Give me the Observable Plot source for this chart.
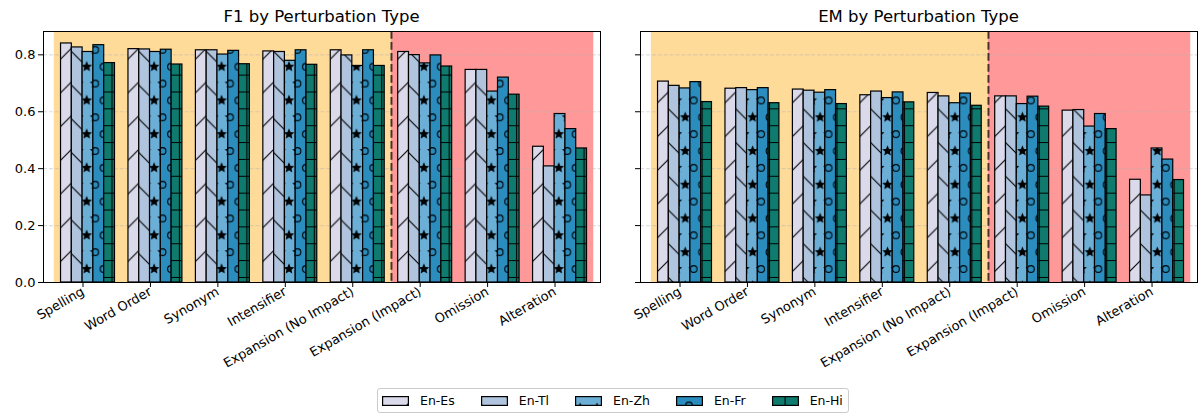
<!DOCTYPE html>
<html>
<head>
<meta charset="utf-8">
<script src="https://cdn.jsdelivr.net/npm/d3@7"></script>
<script src="https://cdn.jsdelivr.net/npm/@observablehq/plot@0.6"></script>
<style>
  body { margin: 0; background: #fff; font-family: "DejaVu Sans", sans-serif; }
  #wrap { position: relative; width: 1200px; height: 414px; overflow: hidden; }
  .title { position: absolute; top: 7px; font-size: 16.5px; line-height: 20px; transform: translateX(-50%); white-space: nowrap; color: #000; }
  .panel { position: absolute; top: 0; }
  #legend { position: absolute; left: 377px; top: 388px; height: 23px; display: flex; align-items: center;
            border: 1px solid #cccccc; border-radius: 3px; padding: 0 5px 0 4px; font-size: 12.5px; color: #000; }
  #legend .item { display: flex; align-items: center; margin-right: 26px; }
  #legend .item:last-child { margin-right: 0; }
  #legend svg { display: block; margin-right: 11px; }
</style>
</head>
<body>
<div id="wrap"></div>
<script>
// Perturbation categories along the x axis
const categories = ["Spelling", "Word Order", "Synonym", "Intensifier",
  "Expansion (No Impact)", "Expansion (Impact)", "Omission", "Alteration"];
const series = ["En-Es", "En-Tl", "En-Zh", "En-Fr", "En-Hi"];
const seriesColors = ["#dadaeb", "#b0c4de", "#6baed6", "#2b8cbe", "#0f7b6e"];
const seriesHatches = ["diag", "back", "star", "ring", "grid"];
const yTicks = [0, 0.2, 0.4, 0.6, 0.8];
// first category whose perturbation changes the answer
const impactStart = "Expansion (Impact)";

// F1 scores per language pair
const f1Es = [0.840, 0.820, 0.816, 0.812, 0.816, 0.810, 0.747, 0.477];
const f1Tl = [0.826, 0.819, 0.816, 0.810, 0.798, 0.799, 0.747, 0.408];
const f1Zh = [0.810, 0.810, 0.801, 0.779, 0.761, 0.770, 0.671, 0.592];
const f1Fr = [0.834, 0.818, 0.814, 0.816, 0.816, 0.798, 0.720, 0.539];
const f1Hi = [0.771, 0.766, 0.767, 0.765, 0.761, 0.759, 0.660, 0.471];

// Exact-match scores per language pair
const emEs = [0.706, 0.681, 0.678, 0.658, 0.666, 0.654, 0.604, 0.361];
const emTl = [0.691, 0.683, 0.674, 0.671, 0.654, 0.654, 0.606, 0.306];
const emZh = [0.682, 0.676, 0.667, 0.648, 0.630, 0.627, 0.548, 0.471];
const emFr = [0.704, 0.683, 0.676, 0.668, 0.664, 0.653, 0.592, 0.432];
const emHi = [0.634, 0.630, 0.627, 0.633, 0.621, 0.618, 0.539, 0.360];

const BAR_W = 0.16;          // bar width in category units
const X_DOMAIN = [-0.66, 7.6];
const Y_MAX = 0.882;

// hatch cell size; a pattern tile is two cells square
const S = 16.86, P = 2 * S;
// one hatch lattice shared by the whole page (origin in page coordinates)
const HATCH_ORIGIN = [86.7, 66.7];

function starPath(cx, cy, R, r) {
  let d = "";
  for (let k = 0; k < 10; k++) {
    const a = -Math.PI / 2 + k * Math.PI / 5;
    const rad = k % 2 === 0 ? R : r;
    d += (k === 0 ? "M" : "L") + (cx + rad * Math.cos(a)).toFixed(2) + "," + (cy + rad * Math.sin(a)).toFixed(2);
  }
  return d + "Z";
}

const mod = v => ((v % P) + P) % P;

// Adds the five hatch patterns to an svg; phase gives each pattern's origin in the svg's coordinates
function addPatterns(svg, prefix, phase) {
  const ns = "http://www.w3.org/2000/svg";
  let defs = svg.querySelector("defs");
  if (!defs) { defs = document.createElementNS(ns, "defs"); svg.insertBefore(defs, svg.firstChild); }
  const lattice = [[0, 0], [S, 0], [P, 0], [0, P], [S, P], [P, P], [S / 2, S], [3 * S / 2, S]];
  const content = {
    diag: `<path d="M0,${P}L${P},0M${-P/2},${P/2}L${P/2},${-P/2}M${P/2},${3*P/2}L${3*P/2},${P/2}" stroke="#000" stroke-width="1.1" fill="none"/>`,
    back: `<path d="M0,0L${P},${P}M${-P/2},${P/2}L${P/2},${3*P/2}M${P/2},${-P/2}L${3*P/2},${P/2}" stroke="#000" stroke-width="1.1" fill="none"/>`,
    star: `<path d="${lattice.map(([x, y]) => starPath(x, y, S / 3, S / 6.5)).join("")}" fill="#000"/>`,
    ring: lattice.map(([x, y]) => `<circle cx="${x}" cy="${y}" r="${(S * 0.2).toFixed(2)}" fill="none" stroke="#000" stroke-width="1.1"/>`).join(""),
    grid: `<path d="M${S/2},0V${P}M${3*S/2},0V${P}M0,${S/2}H${P}M0,${3*S/2}H${P}" stroke="#000" stroke-width="1.1" fill="none"/>`
  };
  for (const [name, body] of Object.entries(content)) {
    const [ox, oy] = typeof phase === "function" ? phase(name) : phase;
    const pat = document.createElementNS(ns, "pattern");
    pat.setAttribute("id", `${prefix}-${name}`);
    pat.setAttribute("patternUnits", "userSpaceOnUse");
    pat.setAttribute("x", mod(ox));
    pat.setAttribute("y", mod(oy));
    pat.setAttribute("width", P);
    pat.setAttribute("height", P);
    pat.innerHTML = body;
    defs.appendChild(pat);
  }
}

function buildRows(valueLists) {
  const rows = [];
  valueLists.forEach((vals, si) => vals.forEach((v, ci) => rows.push({series: series[si], si, category: categories[ci], ci, value: v})));
  return rows;
}

function panel({prefix, values, pageLeft, width, marginLeft, marginRight, showYLabels}) {
  const rows = buildRows(values);
  const boundary = categories.indexOf(impactStart) - 0.5;
  const first = -0.5, last = categories.length - 0.5;
  const x1 = d => d.ci + (d.si - 2.5) * BAR_W;
  const x2 = d => d.ci + (d.si - 1.5) * BAR_W;

  const marks = [
    Plot.rect([{a: first, b: boundary}], {x1: "a", x2: "b", y1: 0, y2: Y_MAX, fill: "#ffdb99"}),
    Plot.rect([{a: boundary, b: last}], {x1: "a", x2: "b", y1: 0, y2: Y_MAX, fill: "#ff9999"}),
    Plot.ruleY(yTicks.slice(1), {stroke: "#b0b0b0", strokeOpacity: 0.4, strokeWidth: 1.1, strokeDasharray: "4.1,1.8"}),
    Plot.ruleX([boundary], {stroke: "#000", strokeOpacity: 0.7, strokeWidth: 2, strokeDasharray: "7.7,3.3"})
  ];
  series.forEach((name, si) => {
    const sub = rows.filter(d => d.si === si);
    marks.push(Plot.rectY(sub, {x1, x2, y1: 0, y2: "value", fill: seriesColors[si]}));
    marks.push(Plot.rectY(sub, {x1, x2, y1: 0, y2: "value", fill: `url(#${prefix}-${seriesHatches[si]})`,
      stroke: "#000", strokeWidth: 1.2}));
  });
  marks.push(Plot.frame({stroke: "#000", strokeWidth: 1}));
  marks.push(Plot.axisY({ticks: yTicks, tickSize: 5, tickPadding: 3,
    tickFormat: showYLabels ? d3.format(".1f") : () => "", label: null}));
  marks.push(Plot.axisX({ticks: categories.map((_, i) => i), tickFormat: i => categories[i],
    tickSize: 5, tickPadding: 3, tickRotate: -30, textAnchor: "end", dx: -5, label: null}));

  const svg = Plot.plot({
    width, height: 384,
    marginLeft, marginRight, marginTop: 31, marginBottom: 102,
    x: {domain: X_DOMAIN},
    y: {domain: [0, Y_MAX]},
    style: {fontFamily: "DejaVu Sans, sans-serif", fontSize: "13px", color: "#000", background: "transparent", overflow: "visible"},
    marks
  });
  addPatterns(svg, prefix, [HATCH_ORIGIN[0] - pageLeft, HATCH_ORIGIN[1]]);
  svg.classList.add("panel");
  svg.style.left = pageLeft + "px";
  return svg;
}

const wrap = document.getElementById("wrap");
wrap.appendChild(panel({prefix: "f1", values: [f1Es, f1Tl, f1Zh, f1Fr, f1Hi], pageLeft: 0, width: 602, marginLeft: 43, marginRight: 2, showYLabels: true}));
wrap.appendChild(panel({prefix: "em", values: [emEs, emTl, emZh, emFr, emHi], pageLeft: 600, width: 600, marginLeft: 40, marginRight: 3, showYLabels: false}));

for (const [text, cx] of [["F1 by Perturbation Type", 321.5], ["EM by Perturbation Type", 918.5]]) {
  const t = document.createElement("div");
  t.className = "title";
  t.style.left = cx + "px";
  t.textContent = text;
  wrap.appendChild(t);
}

// legend with hatched swatches; each hatch gets its own phase inside the small swatch
const swatchPhase = {diag: [34, 0], back: [0, 8.5], star: [-3.3, -4.7], ring: [13, 9.5], grid: [4.67, 1.2]};
const legend = document.createElement("div");
legend.id = "legend";
wrap.appendChild(legend);
series.forEach((name, si) => {
  const item = document.createElement("div");
  item.className = "item";
  const sw = d3.create("svg").attr("width", 27).attr("height", 10);
  sw.append("rect").attr("x", 0.6).attr("y", 0.6).attr("width", 25.8).attr("height", 8.8).attr("fill", seriesColors[si]);
  sw.append("rect").attr("x", 0.6).attr("y", 0.6).attr("width", 25.8).attr("height", 8.8)
    .attr("fill", `url(#lg${si}-${seriesHatches[si]})`).attr("stroke", "#000").attr("stroke-width", 1.2);
  addPatterns(sw.node(), `lg${si}`, name => swatchPhase[name]);
  item.appendChild(sw.node());
  const label = document.createElement("span");
  label.textContent = name;
  item.appendChild(label);
  legend.appendChild(item);
});
</script>
</body>
</html>
